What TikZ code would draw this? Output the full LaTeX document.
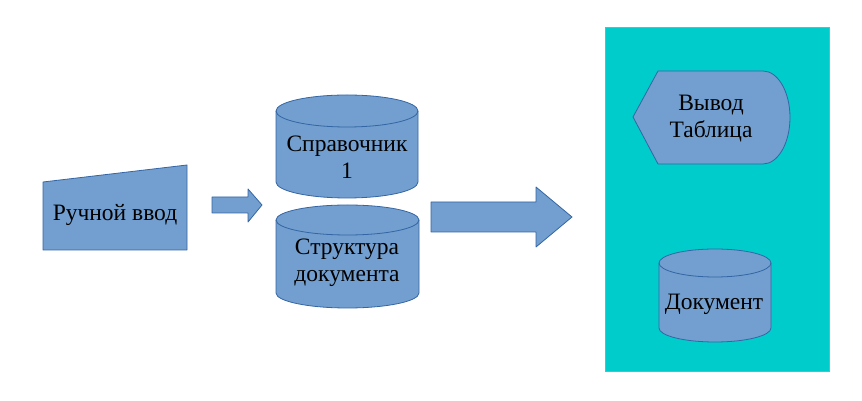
\documentclass[tikz,border=0pt]{standalone}
\usepackage{fontspec}
\setmainfont{Liberation Serif}
\definecolor{shapefill}{HTML}{729FCF}
\definecolor{shapeline}{HTML}{3465A4}
\definecolor{panelfill}{HTML}{00CCCC}
\definecolor{panelline}{HTML}{7FA7D0}
\begin{document}
\begin{tikzpicture}[x=1pt,y=1pt,
  shp/.style={fill=shapefill,draw=shapeline,line width=0.8pt,line join=round},
  lbl/.style={font=\fontsize{23.5}{27}\selectfont,align=center,inner sep=0pt,text=black}]
\useasboundingbox (0,0) rectangle (862,401);
% panel
\path[fill=panelfill,draw=panelline,line width=0.8pt] (605,30) rectangle (829,374);
% manual input
\path[shp] (43,151) -- (43,219) -- (187,236) -- (187,151) -- cycle;
\node[lbl] (manual) at (115,186) {Ручной ввод};
% small arrow
\path[shp] (212,188) -- (248,188) -- (248,179) -- (262,196) -- (248,212) -- (248,204) -- (212,204) -- cycle;
% cylinder 1
\path[shp] (276,290) -- (276,219) arc[start angle=180,end angle=360,x radius=71,y radius=16]
  -- (418,290) arc[start angle=0,end angle=180,x radius=71,y radius=16] -- cycle;
\draw[shapeline,line width=0.8pt] (276,290) arc[start angle=180,end angle=360,x radius=71,y radius=16];
\node[lbl] (sprav) at (347,244) {Справочник\\1};
% cylinder 2
\path[shp] (276,181) -- (276,108) arc[start angle=180,end angle=360,x radius=71.5,y radius=15]
  -- (419,181) arc[start angle=0,end angle=180,x radius=71.5,y radius=15] -- cycle;
\draw[shapeline,line width=0.8pt] (276,181) arc[start angle=180,end angle=360,x radius=71.5,y radius=15];
\node[lbl] (struct) at (347,138.5) {Структура\\документа};
% big arrow
\path[shp] (431,169) -- (536,169) -- (536,154) -- (572,184) -- (536,214) -- (536,199) -- (431,199) -- cycle;
% display shape
\path[shp] (633,284) -- (658,330) -- (763,330) arc[start angle=90,end angle=-90,x radius=27,y radius=46.5]
  -- (658,237) -- cycle;
\node[lbl] (vyvod) at (711,282.5) {Вывод\\Таблица};
% document cylinder
\path[shp] (659,138) -- (659,73) arc[start angle=180,end angle=360,x radius=56,y radius=14]
  -- (771,138) arc[start angle=0,end angle=180,x radius=56,y radius=14] -- cycle;
\draw[shapeline,line width=0.8pt] (659,138) arc[start angle=180,end angle=360,x radius=56,y radius=14];
\node[lbl] (doc) at (714,97) {Документ};
\end{tikzpicture}
\end{document}
